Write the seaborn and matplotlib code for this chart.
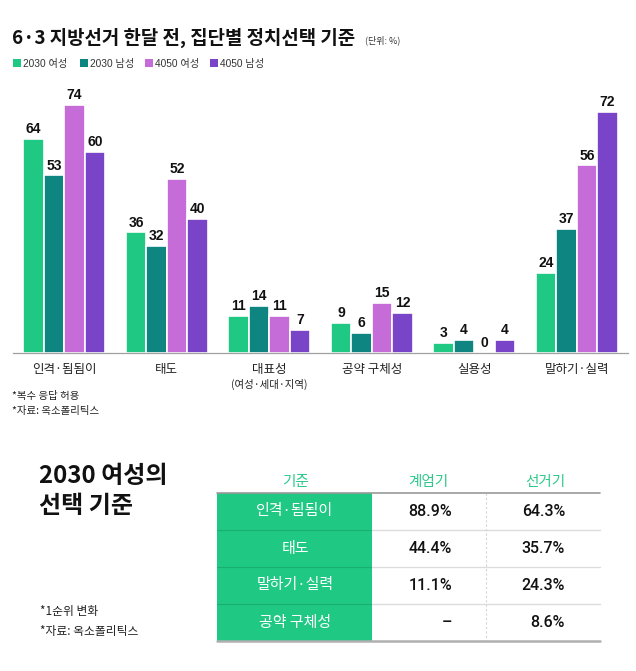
import matplotlib
matplotlib.use("Agg")
import matplotlib.pyplot as plt
import seaborn as sns
import pandas as pd
from matplotlib.patches import Rectangle

# ---------------- data ----------------
categories = ["인격·됨됨이", "태도", "대표성", "공약 구체성", "실용성", "말하기·실력"]
sublabels = ["", "", "(여성·세대·지역)", "", "", ""]
groups = ["2030 여성", "2030 남성", "4050 여성", "4050 남성"]
v_2030_f = [64, 36, 11, 9, 3, 24]
v_2030_m = [53, 32, 14, 6, 4, 37]
v_4050_f = [74, 52, 11, 15, 0, 56]
v_4050_m = [60, 40, 7, 12, 4, 72]
colors = ["#1fc883", "#0e8580", "#c56cd9", "#7a44c8"]

title = "6·3 지방선거 한달 전, 집단별 정치선택 기준"
unit = "(단위: %)"
notes_top = ["*복수 응답 허용", "*자료: 옥소폴리틱스"]

tbl_title = ["2030 여성의", "선택 기준"]
tbl_header = ["기준", "계엄기", "선거기"]
tbl_rows = ["인격·됨됨이", "태도", "말하기·실력", "공약 구체성"]
tbl_martial = ["88.9%", "44.4%", "11.1%", "–"]
tbl_election = ["64.3%", "35.7%", "24.3%", "8.6%"]
notes_bottom = ["*1순위 변화", "*자료: 옥소폴리틱스"]

# ---------------- style ----------------
sns.set_theme(style="white")
FAM = ["Liberation Sans", "Noto Sans CJK KR", "DejaVu Sans"]
KFAM = ["Noto Sans CJK KR", "DejaVu Sans"]
NFAM = ["Roboto", "Liberation Sans", "DejaVu Sans"]
plt.rcParams["font.family"] = FAM

W, H = 636, 671
fig = plt.figure(figsize=(W / 100, H / 100), dpi=100)
fig.patch.set_facecolor("white")

df = pd.DataFrame({
    "category": categories * 4,
    "group": sum([[g] * len(categories) for g in groups], []),
    "value": v_2030_f + v_2030_m + v_4050_f + v_4050_m,
})

ax = fig.add_axes([13 / W, (H - 353) / H, 615 / W, 263 / H])
sns.barplot(data=df, x="category", y="value", hue="group", order=categories,
            hue_order=groups, palette=colors, width=0.8, saturation=1,
            edgecolor="white", linewidth=1.2, legend=False, ax=ax)
ax.set_xlim(-0.5, len(categories) - 0.5)
ax.set_ylim(0, 78.5)
ax.set_xlabel("")
ax.set_ylabel("")
ax.set_yticks([])
for s in ["top", "left", "right"]:
    ax.spines[s].set_visible(False)
ax.spines["bottom"].set_color("#a0a0a0")
ax.spines["bottom"].set_linewidth(0.9)
ax.set_xticks(range(len(categories)))
ax.set_xticklabels(categories, fontsize=9, family=KFAM, color="#222")
ax.tick_params(axis="x", which="major", length=0, pad=7)
ax.set_xticks([i - 0.5 for i in range(len(categories) + 1)], minor=True)
ax.tick_params(axis="x", which="minor", direction="in", length=5,
               color="#a0a0a0", width=0.8)
for i, s in enumerate(sublabels):
    if s:
        ax.text(i, -0.12, s, transform=ax.get_xaxis_transform(), ha="center",
                va="center", fontsize=7.5, family=KFAM, color="#222")
for cont in ax.containers:
    ax.bar_label(cont, fmt="%d", padding=2, fontsize=10, fontweight="bold",
                 color="#111")

# ---------------- overlay (pixel coordinates) ----------------
ov = fig.add_axes([0, 0, 1, 1])
ov.set_xlim(0, W)
ov.set_ylim(H, 0)
ov.axis("off")
ov.patch.set_visible(False)

ov.text(12, 38, title, fontsize=13.6, fontweight="bold", va="center",
        ha="left", family=KFAM, color="#111")
ov.text(365, 40, unit, fontsize=6.5, va="center", ha="left", family=KFAM,
        color="#333")

leg_x = [13, 80, 145, 210]
for x, g, c in zip(leg_x, groups, colors):
    ov.add_patch(Rectangle((x, 59), 8, 8, facecolor=c, edgecolor="none"))
    ov.text(x + 10, 63.5, g, fontsize=7.3, va="center", ha="left",
            family=FAM, color="#333")

for i, n in enumerate(notes_top):
    ov.text(12, 396 + 15 * i, n, fontsize=7.5, va="center", ha="left",
            family=KFAM, color="#222")

# table block
for i, t in enumerate(tbl_title):
    ov.text(39, 476 + 30 * i, t, fontsize=17.3, fontweight="bold",
            va="center", ha="left", family=KFAM, color="#111")
for i, n in enumerate(notes_bottom):
    ov.text(40, 612 + 19 * i, n, fontsize=8.5, va="center", ha="left",
            family=KFAM, color="#222")

green = colors[0]
x0, x1, xd, x2 = 217, 372, 486, 600
top, rh = 493, 37
nrows = len(tbl_rows)
bottom = top + rh * nrows

hdr_x = [295, 428, 545]
for x, h in zip(hdr_x, tbl_header):
    ov.text(x, 482, h, fontsize=10.5, va="center", ha="center", family=KFAM,
            color="#2cc98a")

ov.add_patch(Rectangle((x0, top), x1 - x0, bottom - top, facecolor=green,
                       edgecolor="none"))
for r in range(1, nrows):
    y = top + rh * r
    ov.plot([x0, x1], [y, y], color="#17b070", lw=0.8)
    ov.plot([x1, x2], [y, y], color="#dcdcdc", lw=1.0)
ov.plot([xd, xd], [top, bottom], color="#d5d5d5", lw=0.8, ls=(0, (2, 2)))
ov.plot([x0, x2], [top, top], color="#9a9a9a", lw=1.2)
ov.plot([x0, x2], [bottom, bottom], color="#b0b0b0", lw=1.8)

for r, (lab, a, b) in enumerate(zip(tbl_rows, tbl_martial, tbl_election)):
    yc = top + rh * r + rh / 2
    ov.text(295, yc, lab, fontsize=10.8, va="center", ha="center",
            family=KFAM, color="white")
    ov.text(452, yc, a, fontsize=11.5, fontweight="medium", va="center",
            ha="right", family=NFAM, color="#111")
    ov.text(565, yc, b, fontsize=11.5, fontweight="medium", va="center",
            ha="right", family=NFAM, color="#111")

fig.savefig("out.png", dpi=100, facecolor="white")
